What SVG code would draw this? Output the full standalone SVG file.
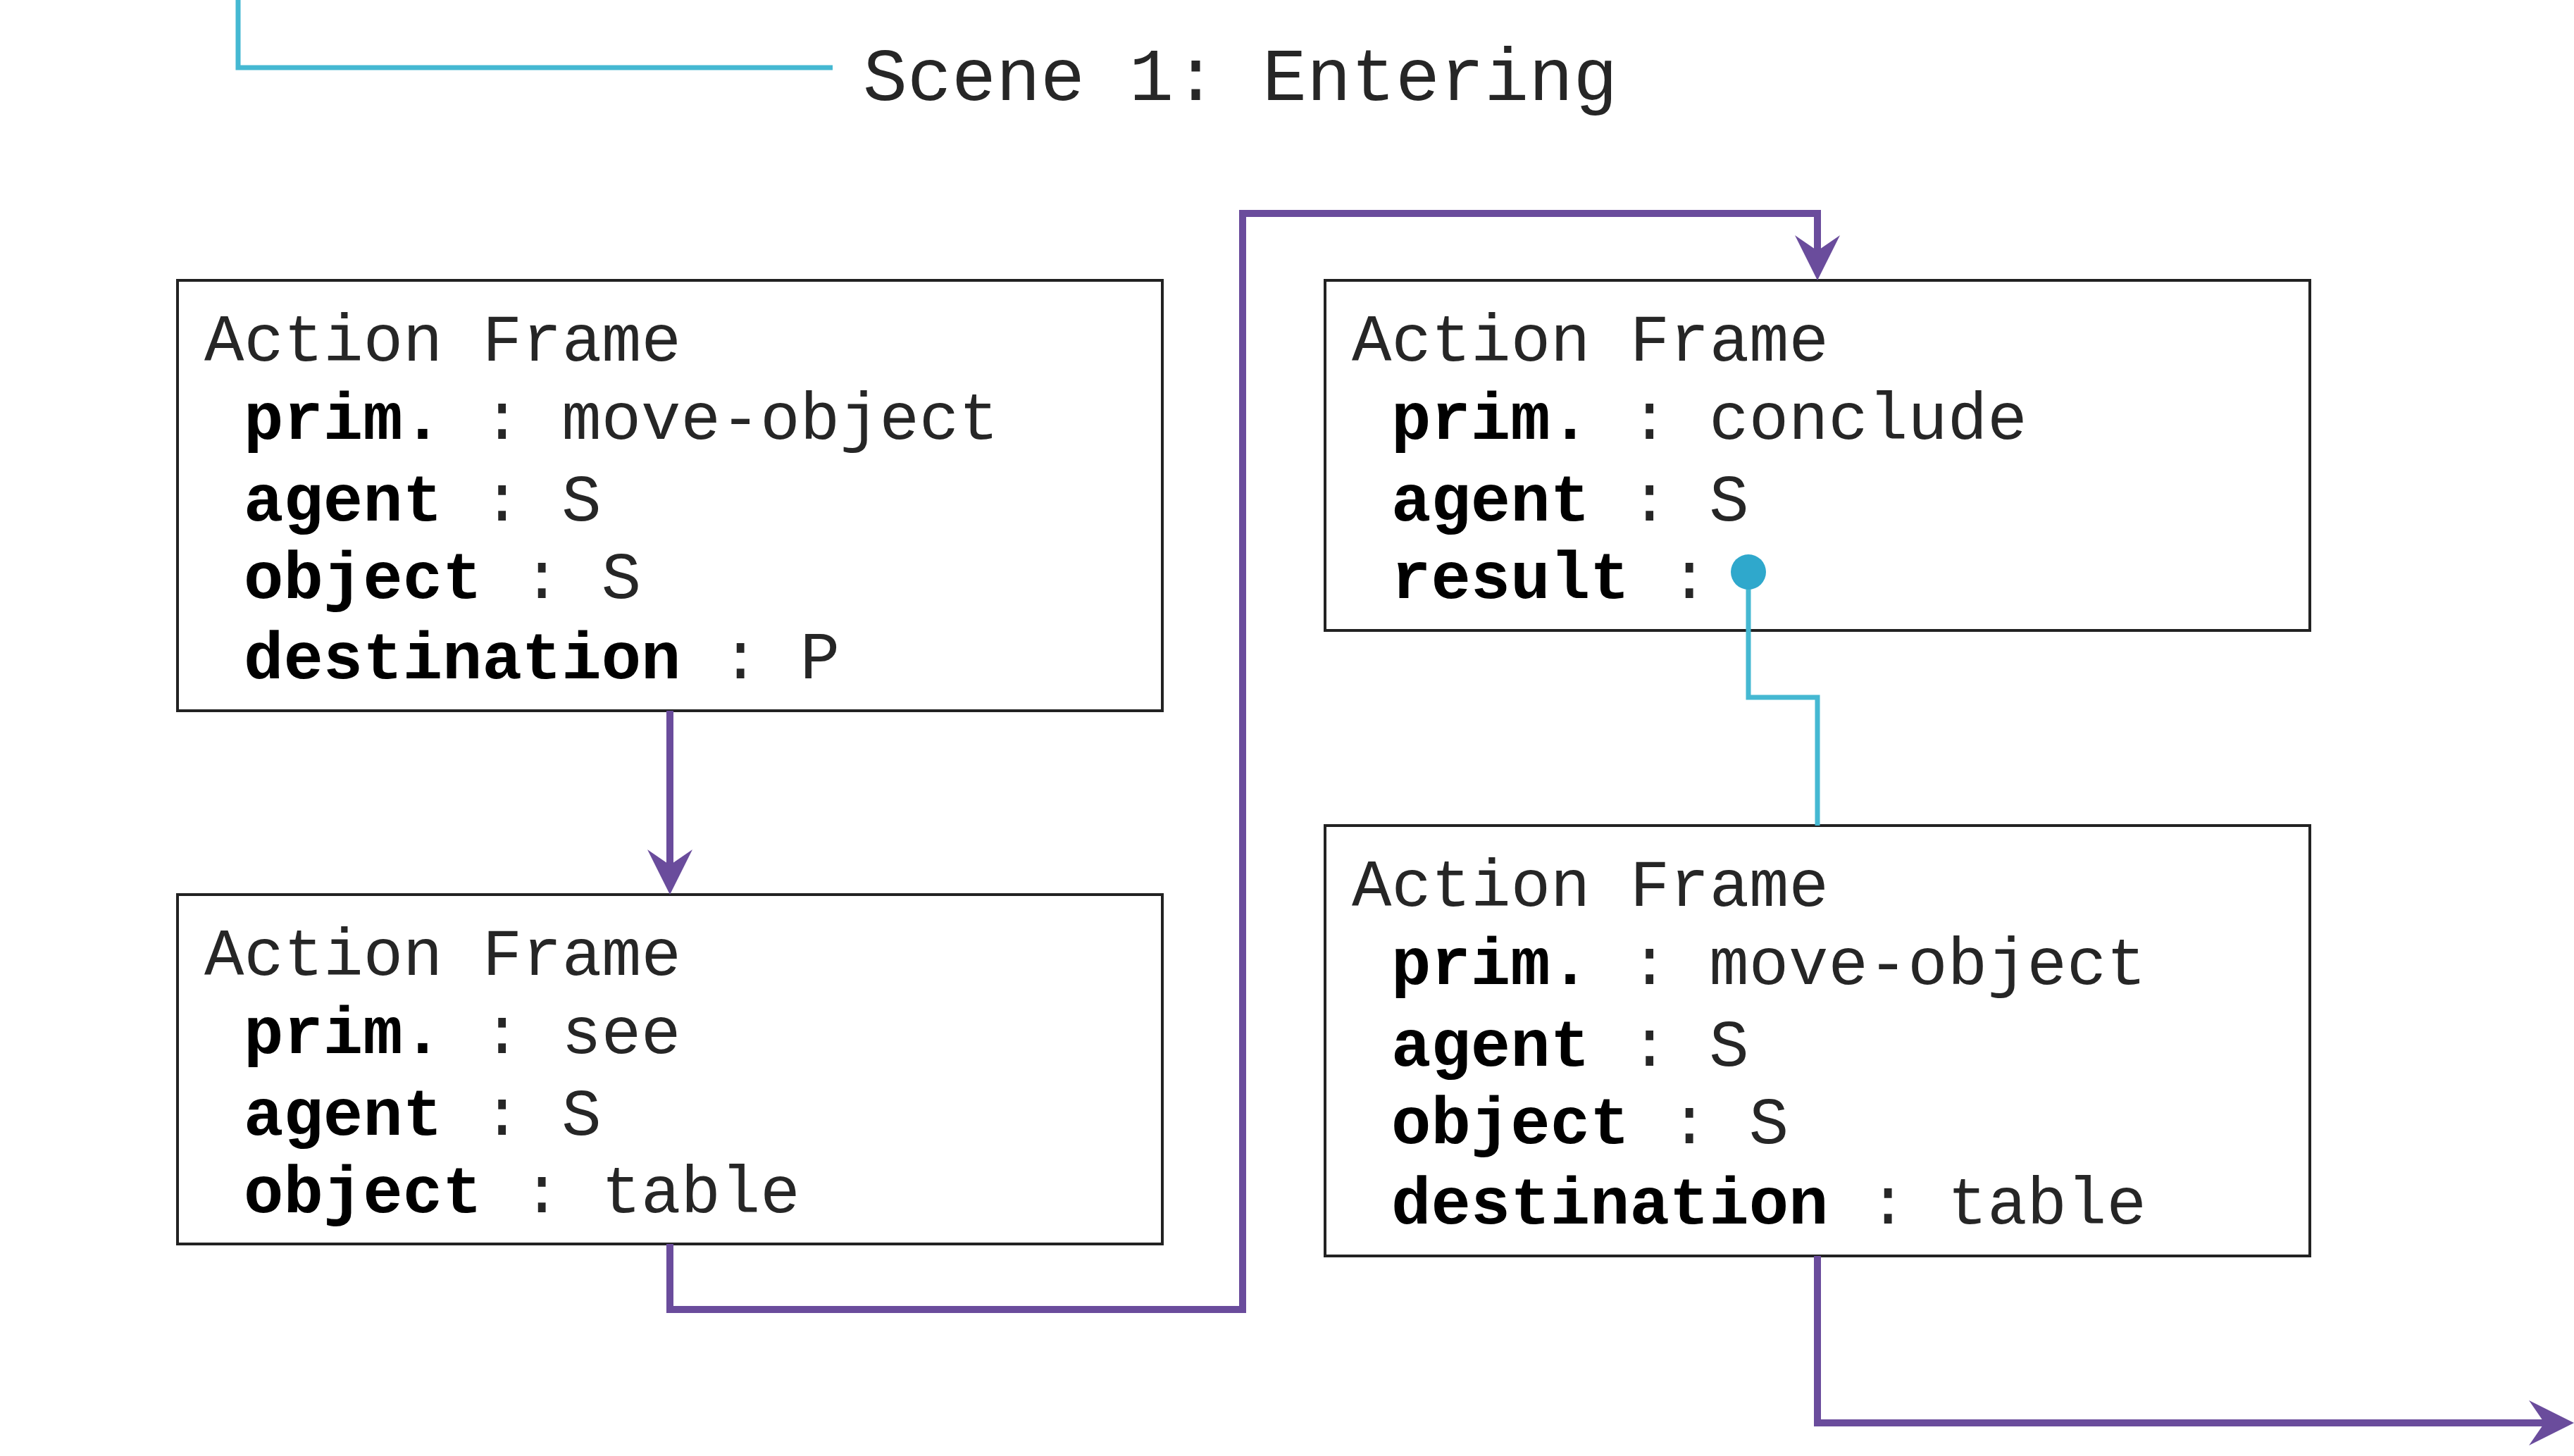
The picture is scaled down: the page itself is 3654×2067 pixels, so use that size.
<svg xmlns="http://www.w3.org/2000/svg" width="3654" height="2067" viewBox="0 0 3654 2067">
<style>
.box{fill:#fff;stroke:#222;stroke-width:4}
.t{font-family:"Liberation Mono","Courier New",monospace;font-size:94px;fill:#262626}
.b{font-weight:bold;fill:#000}
.title{font-family:"Liberation Mono","Courier New",monospace;font-size:105px;fill:#262626}
.p{fill:none;stroke:#6a4c9c;stroke-width:10}
.c{fill:none;stroke:#45b8d2;stroke-width:7}
</style>
<defs>
<marker id="ah" viewBox="0 -32 64 64" markerWidth="64" markerHeight="64" markerUnits="userSpaceOnUse" refX="26" refY="0" orient="auto">
<path d="M64,0 L0,-32 L22,0 L0,32 Z" fill="#6a4c9c"/>
</marker>
</defs>
<rect width="3654" height="2067" fill="#fff"/>
<g id="scene-title">
<path class="c" d="M338,0 V96 H1182"/>
<text class="title" x="1225" y="142">Scene 1: Entering</text>
</g>
<g id="frame1">
<rect class="box" x="252" y="398" width="1398" height="611"/>
<text class="t" x="290" y="512">Action Frame</text>
<text class="t" x="346" y="623"><tspan class="b">prim.</tspan> : move-object</text>
<text class="t" x="346" y="739"><tspan class="b">agent</tspan> : S</text>
<text class="t" x="346" y="849"><tspan class="b">object</tspan> : S</text>
<text class="t" x="346" y="963"><tspan class="b">destination</tspan> : P</text>
</g>
<g id="frame2">
<rect class="box" x="252" y="1270" width="1398" height="496"/>
<text class="t" x="290" y="1384">Action Frame</text>
<text class="t" x="346" y="1495"><tspan class="b">prim.</tspan> : see</text>
<text class="t" x="346" y="1611"><tspan class="b">agent</tspan> : S</text>
<text class="t" x="346" y="1721"><tspan class="b">object</tspan> : table</text>
</g>
<g id="frame3">
<rect class="box" x="1881" y="398" width="1398" height="497"/>
<text class="t" x="1919" y="512">Action Frame</text>
<text class="t" x="1975" y="623"><tspan class="b">prim.</tspan> : conclude</text>
<text class="t" x="1975" y="739"><tspan class="b">agent</tspan> : S</text>
<text class="t" x="1975" y="849"><tspan class="b">result</tspan> :</text>
</g>
<g id="frame4">
<rect class="box" x="1881" y="1172" width="1398" height="611"/>
<text class="t" x="1919" y="1286">Action Frame</text>
<text class="t" x="1975" y="1397"><tspan class="b">prim.</tspan> : move-object</text>
<text class="t" x="1975" y="1513"><tspan class="b">agent</tspan> : S</text>
<text class="t" x="1975" y="1623"><tspan class="b">object</tspan> : S</text>
<text class="t" x="1975" y="1737"><tspan class="b">destination</tspan> : table</text>
</g>
<g id="connectors">
<path class="p" d="M951,1009 V1232" marker-end="url(#ah)"/>
<path class="p" d="M951,1766 V1859 H1764 V303 H2580 V360" marker-end="url(#ah)"/>
<path class="p" d="M2580,1783 V2020 H3616" marker-end="url(#ah)"/>
<path class="c" d="M2482,812 V990 H2580 V1172"/>
<circle cx="2482" cy="812" r="25" fill="#2fa8cc"/>
</g>
</svg>
